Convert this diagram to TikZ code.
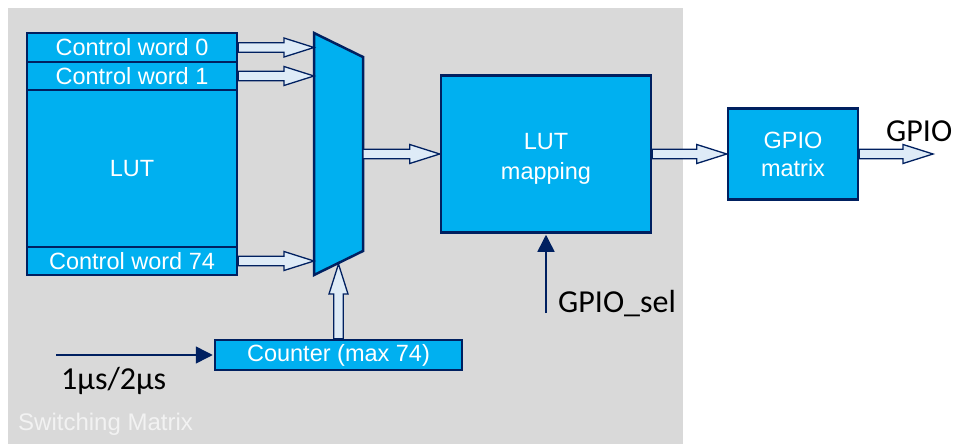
\documentclass[tikz,border=0pt]{standalone}
\usepackage{fontspec}
\setmainfont{Liberation Sans}
\newfontfamily\calfont{Carlito}
\usetikzlibrary{calc,arrows.meta}
\definecolor{blk}{HTML}{00B0F0}
\definecolor{navy}{HTML}{002060}
\definecolor{pale}{HTML}{DEEBF7}
\definecolor{bggray}{HTML}{D9D9D9}
\definecolor{smtext}{HTML}{F2F2F2}
\newcommand\hfat[2]{\draw[fatarr] ($(#1)+(0,-4.8)$) -- ($(#2)+(-30,-4.8)$) -- ($(#2)+(-30,-9.5)$) -- (#2) -- ($(#2)+(-30,9.5)$) -- ($(#2)+(-30,4.8)$) -- ($(#1)+(0,4.8)$) -- cycle;}
\newcommand\vfat[2]{\draw[fatarr] ($(#1)+(-4.8,0)$) -- ($(#2)+(-4.8,30)$) -- ($(#2)+(-9.5,30)$) -- (#2) -- ($(#2)+(9.5,30)$) -- ($(#2)+(4.8,30)$) -- ($(#1)+(4.8,0)$) -- cycle;}
\begin{document}
\begin{tikzpicture}[x=1pt,y=-1pt,
  block/.style={draw=navy, line width=2.5pt, fill=blk, text=white, inner sep=0pt,
    font=\fontsize{23.5}{28}\selectfont, align=center},
  fatarr/.style={draw=navy, line width=1.3pt, fill=pale, line join=miter},
  thinarr/.style={draw=navy, line width=1.5pt, -{Triangle[length=17pt,width=17pt]}, shorten >=1pt},
  lbl/.style={font=\calfont\fontsize{32}{36}\selectfont, text=black, inner sep=0pt, anchor=base west}]
\useasboundingbox (0,0) rectangle (954,444);
\fill[white] (0,0) rectangle (954,444);
\fill[bggray] (8,8) rectangle (683,444);
\node[anchor=base west, text=smtext, inner sep=0pt, font=\fontsize{24}{28}\selectfont] (sm) at (18,430) {Switching Matrix};

% LUT block
\node[block, minimum width=210pt, minimum height=157pt] (lut) at (132,168.5) {LUT};
\node[block, minimum width=210pt, minimum height=29pt] (cw0) at (132,47.5) {Control word 0};
\node[block, minimum width=210pt, minimum height=28pt] (cw1) at (132,76) {Control word 1};
\node[block, minimum width=210pt, minimum height=28pt] (cw74) at (132,261) {Control word 74};

% mux
\draw[draw=navy, line width=2.5pt, fill=blk, line join=miter]
  (314,33) coordinate (mtl) -- (363,57) coordinate (mtr) -- (363,251) coordinate (mbr) -- (314,275) coordinate (mbl) -- cycle;
\coordinate (mux0) at (mtl |- cw0.east);
\coordinate (mux1) at (mtl |- cw1.east);
\coordinate (mux74) at (mtl |- cw74.east);
\coordinate (muxout) at (363,154);
\coordinate (muxbot) at (338.5,264);

% other blocks
\node[block, minimum width=210pt, minimum height=157pt, font=\fontsize{23.5}{30}\selectfont] (map) at (546,154) {\rule{0pt}{25pt}LUT\\mapping};
\node[block, minimum width=130pt, minimum height=91pt, font=\fontsize{23.5}{28}\selectfont] (gpio) at (793,154) {GPIO\\matrix};
\node[block, minimum width=247pt, minimum height=30pt] (cnt) at (338.5,355) {Counter (max 74)};
\coordinate (gout) at (933,154);

% fat arrows
\hfat{cw0.east}{mux0}
\hfat{cw1.east}{mux1}
\hfat{cw74.east}{mux74}
\hfat{muxout}{map.west}
\hfat{map.east}{gpio.west}
\hfat{gpio.east}{gout}
\vfat{cnt.north}{muxbot}

% thin inputs
\coordinate (clkin) at (56,355);
\draw[thinarr] (clkin) -- (cnt.west);
\coordinate (selin) at (546,313);
\draw[thinarr] (selin) -- (map.south);

% labels
\node[lbl] (clklbl) at (61,389) {1µs/2µs};
\node[lbl] (sellbl) at (558,312) {GPIO\_sel};
\node[lbl] (gpiolbl) at (886,142) {GPIO};
\end{tikzpicture}
\end{document}
